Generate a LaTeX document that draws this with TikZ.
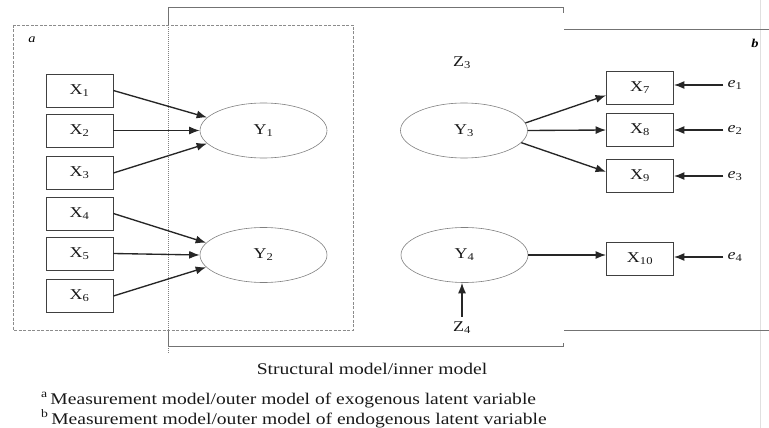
\documentclass[tikz,border=0pt]{standalone}
\usepackage{fontspec}
\setmainfont{Liberation Serif}[FakeStretch=1.2]
\usetikzlibrary{arrows.meta,shapes.geometric}

\begin{document}
\begin{tikzpicture}[x=1pt,y=-1pt,
  txt/.style={font=\fontsize{15}{18}\selectfont, text=black!90},
  ind/.style={txt, draw=black!75, line width=0.8pt, minimum width=67pt, minimum height=33pt, inner sep=0pt},
  lat/.style={txt, ellipse, draw=black!50, line width=0.6pt, minimum width=127pt, minimum height=55pt, inner sep=0pt},
  err/.style={txt, inner sep=1pt},
  arr/.style={-{Latex[length=10.5pt,width=8pt]}, line width=1.35pt, black!85},
  frame/.style={draw=black!55, line width=0.8pt},
  dotframe/.style={draw=black!50, line width=0.7pt, dash pattern=on 1pt off 1pt},
  dashframe/.style={draw=black!45, line width=0.7pt, dash pattern=on 3pt off 1.5pt},
  caption/.style={font=\fontsize{16.3}{20}\selectfont, text=black!90, inner sep=0pt}
]
\useasboundingbox (0,0) rectangle (769,428);

% faint page edge on the right
\draw[black!12, line width=0.6pt] (760,0) -- (760,428);

% structural (inner) model frame
\draw[frame] (168,25) -- (168,7) -- (563,7) -- (563,13);
\draw[frame] (168,330) -- (168,346) -- (563,346) -- (563,343);
\draw[dotframe] (168,25) -- (168,330);
\draw[dotframe] (168,346) -- (168,353);

% measurement model of the exogenous variables
\draw[dashframe] (13,25) rectangle (353,330);

% measurement model of the endogenous variables
\draw[frame] (564,29) -- (769,29);
\draw[frame] (564,330) -- (769,330);

\node[font=\itshape\fontsize{12}{14}\selectfont] (la) at (32,40) {a};
\node[font=\bfseries\itshape\fontsize{12}{14}\selectfont] (lb) at (755,43) {b};

% indicators
\node[ind] (x1) at (79.5,90.5) {X\textsubscript{1}};
\node[ind] (x2) at (79.5,130.5) {X\textsubscript{2}};
\node[ind] (x3) at (79.5,173) {X\textsubscript{3}};
\node[ind] (x4) at (79.5,213.5) {X\textsubscript{4}};
\node[ind] (x5) at (79.5,253.5) {X\textsubscript{5}};
\node[ind] (x6) at (79.5,296) {X\textsubscript{6}};
\node[ind] (x7) at (640,87.5) {X\textsubscript{7}};
\node[ind] (x8) at (640,130) {X\textsubscript{8}};
\node[ind] (x9) at (640,176) {X\textsubscript{9}};
\node[ind] (x10) at (640,259) {X\textsubscript{10}};

% latent variables
\node[lat] (y1) at (263.5,130.5) {Y\textsubscript{1}};
\node[lat] (y2) at (263.5,255) {Y\textsubscript{2}};
\node[lat] (y3) at (464,130.5) {Y\textsubscript{3}};
\node[lat] (y4) at (464.5,255) {Y\textsubscript{4}};

\node[txt] (z3) at (462,63) {Z\textsubscript{3}};
\node[txt, inner sep=1pt] (z4) at (462,328) {Z\textsubscript{4}};

% error terms
\node[err] (e1) at (735,85) {\textit{e}\textsubscript{1}};
\node[err] (e2) at (735,130) {\textit{e}\textsubscript{2}};
\node[err] (e3) at (735,176) {\textit{e}\textsubscript{3}};
\node[err] (e4) at (735,257) {\textit{e}\textsubscript{4}};

% formative paths
\draw[arr] (x1.east) -- (y1.167);
\draw[arr] (x2.east) -- (y1.west);
\draw[arr] (x3.east) -- (y1.193);
\draw[arr] (x4.east) -- (y2.168);
\draw[arr] (x5.east) -- (y2.west);
\draw[arr] (x6.east) -- (y2.192);

% reflective paths
\draw[arr] (y3.7) -- (x7.193);
\draw[arr] (y3.east) -- (x8.west);
\draw[arr] (y3.348) -- (x9.173);
\draw[arr] (y4.east) -- (y4.east -| x10.west);
\draw[arr, shorten <=4pt] (z4.north) -- (z4.north |- y4.south);

% errors into indicators
\draw[arr, shorten <=3pt] (e1.west) -- (e1.west -| x7.east);
\draw[arr, shorten <=3pt] (e2.west) -- (e2.west -| x8.east);
\draw[arr, shorten <=3pt] (e3.west) -- (e3.west -| x9.east);
\draw[arr, shorten <=3pt] (e4.west) -- (e4.west -| x10.east);

% captions
\node[caption, anchor=base] (cap) at (372,374) {Structural model/inner model};
\node[caption, anchor=base west] (fa) at (41,404) {\textsuperscript{a}\,Measurement model/outer model of exogenous latent variable};
\node[caption, anchor=base west] (fb) at (41,424) {\textsuperscript{b}\,Measurement model/outer model of endogenous latent variable};
\end{tikzpicture}
\end{document}
